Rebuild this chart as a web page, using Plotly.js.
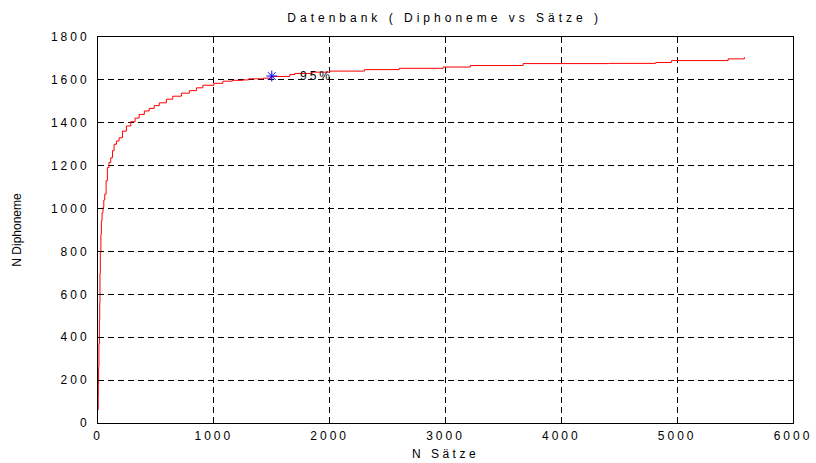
<!DOCTYPE html>
<html>
<head>
<meta charset="utf-8">
<script src="https://cdn.plot.ly/plotly-3.0.1.min.js"></script>
<style>
html,body{margin:0;padding:0;background:#fff;}
#chart{width:816px;height:463px;}
.xtick text, .ytick text { letter-spacing: 3px; }
.annotation-text { letter-spacing: 3px; }
.g-gtitle text { letter-spacing: 4px; }
.g-xtitle text { letter-spacing: 3.5px; }
</style>
</head>
<body>
<div id="chart"></div>
<script>
// Number of sentences (x) and cumulative number of diphonemes (y)
const nSaetze = [1,2,3,5,8,12,15,17,20,25,29,35,43,50,58,70,81,95,110,125,139,160,182,211,245,283,320,355,400,442,485,529,590,645,720,789,850,905,1000,1078,1160,1251,1300,1425,1500,1656,1700,1850,2000,2300,2600,2980,3215,3670,4410,4815,4950,5440,5580];
const nDiphoneme = [60,120,175,260,370,480,560,700,795,880,943,980,1005,1040,1067,1130,1191,1215,1237,1270,1300,1315,1330,1361,1385,1405,1422,1439,1455,1467,1480,1493,1510,1524,1538,1550,1563,1575,1584,1594,1598,1600,1605,1608,1616,1625,1630,1636,1641,1648,1654,1660,1667,1676,1677,1681,1690,1698,1706];
// 95% marker
const markX = [1500];
const markY = [1618];
const markLabel = "95%";
const xTicks = [0,1000,2000,3000,4000,5000,6000];
const yTicks = [0,200,400,600,800,1000,1200,1400,1600,1800];

const font = {family: "Liberation Sans, Arial, sans-serif", size: 12, color: "#000"};

const traces = [
  {x: nSaetze, y: nDiphoneme, type: "scatter", mode: "lines", line: {color: "#ff0000", width: 1, shape: "hv"}, hoverinfo: "skip"},
  {x: markX, y: markY, type: "scatter", mode: "markers", marker: {symbol: "asterisk-open", size: 9, color: "#0000ff", line: {color: "#0000ff", width: 1}}}
];

const axisCommon = {
  showline: true, linecolor: "#000", linewidth: 1, mirror: "ticks",
  ticks: "inside", ticklen: 5, tickcolor: "#000",
  showgrid: true, gridcolor: "#000", gridwidth: 1, griddash: "6px,4px",
  zeroline: false, tickfont: font
};

const layout = {
  width: 816, height: 463,
  margin: {l: 98, r: 23, t: 37, b: 40},
  paper_bgcolor: "#fff", plot_bgcolor: "#fff",
  showlegend: false,
  font: font,
  title: {text: "Datenbank ( Diphoneme vs Sätze )", font: {family: font.family, size: 12, color: "#000"}, x: 0.545, xanchor: "center", y: 0.962, yanchor: "middle"},
  xaxis: Object.assign({}, axisCommon, {range: [0, 6000], tickvals: xTicks, ticktext: xTicks.map(String), ticklabelstandoff: 2,
    title: {text: "N Sätze", font: {family: font.family, size: 12, color: "#000"}, standoff: 7}}),
  yaxis: Object.assign({}, axisCommon, {range: [0, 1800], tickvals: yTicks, ticktext: yTicks.map(String), ticklabelstandoff: 5,
    title: {text: "N Diphoneme", font: {family: font.family, size: 12, color: "#000"}, standoff: 26}}),
  annotations: [{x: 1725, y: markY[0], xref: "x", yref: "y", text: markLabel, showarrow: false, xanchor: "left", yanchor: "middle", font: {family: font.family, size: 12, color: "#000"}}]
};

Plotly.newPlot("chart", traces, layout, {staticPlot: true, displayModeBar: false});
</script>
</body>
</html>
